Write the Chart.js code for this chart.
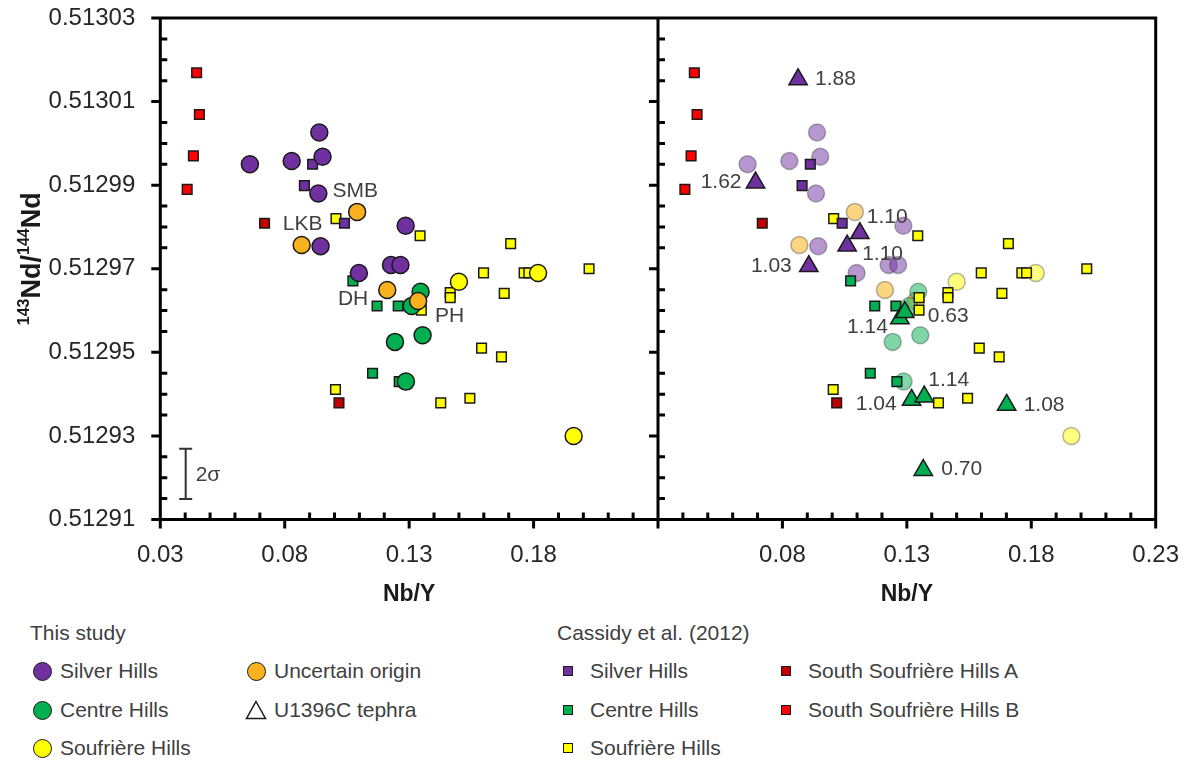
<!DOCTYPE html>
<html><head><meta charset="utf-8">
<script src="https://cdn.jsdelivr.net/npm/chart.js@4.4.1/dist/chart.umd.min.js"></script>
<style>
html,body{margin:0;padding:0;background:#fff;}
#wrap{position:relative;width:1188px;height:765px;overflow:hidden;font-family:"Liberation Sans",Arial,sans-serif;}
#c{position:absolute;left:0;top:0;}
.lt{position:absolute;font-size:21px;line-height:24px;height:24px;color:#404040;white-space:nowrap;}
.mk{position:absolute;box-sizing:border-box;}
</style></head>
<body><div id="wrap"><canvas id="c" width="1188" height="620"></canvas><div id="legend"></div></div>
<script>
// ---------------- DATA ----------------
const yTickValues = [0.51291, 0.51293, 0.51295, 0.51297, 0.51299, 0.51301, 0.51303];
const xTickValues = [0.03, 0.08, 0.13, 0.18, 0.23];

// Cassidy et al. (2012)
const cassSilverX = [0.0912, 0.0879, 0.1040];
const cassSilverY = [0.5129950, 0.5129899, 0.5129809];
const cassCentreX = [0.1074, 0.1171, 0.1256, 0.1153, 0.1260];
const cassCentreY = [0.5129671, 0.5129611, 0.5129611, 0.5129450, 0.5129430];
const cassSoufX = [0.1006, 0.1344, 0.1708, 0.2023, 0.1599, 0.1762, 0.1781, 0.1465, 0.1465, 0.1682, 0.1349, 0.1349, 0.1591, 0.1671, 0.1004, 0.1427, 0.1544];
const cassSoufY = [0.5129820, 0.5129779, 0.5129760, 0.5129700, 0.5129690, 0.5129690, 0.5129690, 0.5129643, 0.5129631, 0.5129641, 0.5129631, 0.5129601, 0.5129510, 0.5129489, 0.5129411, 0.5129379, 0.5129390];
const cassSSHAX = [0.0719, 0.1018];
const cassSSHAY = [0.5129809, 0.5129379];
const cassSSHBX = [0.0446, 0.0457, 0.0433, 0.0408];
const cassSSHBY = [0.5130169, 0.5130069, 0.5129970, 0.5129890];

// This study
const silverX = [0.0660, 0.0828, 0.0939, 0.0952, 0.0935, 0.0944, 0.1286, 0.1098, 0.1227, 0.1265];
const silverY = [0.5129950, 0.5129958, 0.5130026, 0.5129968, 0.5129880, 0.5129754, 0.5129803, 0.5129690, 0.5129709, 0.5129709];
const centreX = [0.1346, 0.1310, 0.1243, 0.1354, 0.1287];
const centreY = [0.5129645, 0.5129611, 0.5129525, 0.5129541, 0.5129430];
const soufX = [0.1500, 0.1818, 0.1961];
const soufY = [0.5129669, 0.5129690, 0.5129300];
const uncertainX = [0.1091, 0.0868, 0.1212, 0.1336];
const uncertainY = [0.5129836, 0.5129757, 0.5129649, 0.5129623];
const uncertainLabels = ['SMB', 'LKB', 'DH', 'PH'];

// U1396C tephra
const tephraSilverX = [0.0863, 0.0692, 0.1111, 0.1060, 0.0906];
const tephraSilverY = [0.5130153, 0.5129906, 0.5129785, 0.5129755, 0.5129706];
const tephraSilverLabels = ['1.88', '1.62', '1.10', '1.10', '1.03'];
const tephraCentreX = [0.1272, 0.1292, 0.1319, 0.1370, 0.1701, 0.1366];
const tephraCentreY = [0.5129581, 0.5129596, 0.5129386, 0.5129394, 0.5129374, 0.5129218];
const tephraCentreLabels = ['1.14', '0.63', '1.04', '1.14', '1.08', '0.70'];

// 2 sigma error bar
const errBarX = 0.0402;
const errBarCentre = 0.5129209;
const errBarHalf = 0.0000060;

// ---------------- STYLE ----------------
const FONT = '"Liberation Sans", Arial, Helvetica, sans-serif';
Chart.defaults.font.family = FONT;
const C = {
  purple: '#7030A0', green: '#00B050', yellow: '#FFFF00', orange: '#F9B21D',
  red: '#FF0000', darkred: '#C00000', edge: '#1a1a1a'
};
const fade = {
  purple: 'rgba(112,48,160,0.5)', green: 'rgba(0,176,80,0.5)', yellow: 'rgba(255,255,0,0.5)', orange: 'rgba(249,178,29,0.55)'
};
const fadeEdge = 'rgba(40,40,40,0.35)';
const uncertainLabelPos = [[-2, -21, 'center'], [1, -21, 'center'], [-19, 9, 'right'], [17, 15, 'left']];
const tephraSilverLabelPos = [[17, 0, 'left'], [-14, 0, 'right'], [7, -16, 'left'], [15, 8, 'left'], [-17, 0, 'right']];
const tephraCentreLabelPos = [[-12, 9, 'right'], [23, 4, 'left'], [-15, 4, 'right'], [4, -16, 'left'], [17, 0, 'left'], [18, -1, 'left']];

function pts(xs, ys) { return xs.map((x, i) => ({x: x, y: ys[i]})); }
function sq(label, xs, ys, color, axis, order) {
  return {label, data: pts(xs, ys), xAxisID: axis, yAxisID: 'y', pointStyle: 'rect', pointRadius: 6.8,
    borderWidth: 1.5, backgroundColor: color, borderColor: C.edge, order, showLine: false};
}
function circ(label, xs, ys, color, edge, axis, order) {
  return {label, data: pts(xs, ys), xAxisID: axis, yAxisID: 'y', pointStyle: 'circle', pointRadius: 8.5,
    borderWidth: 1.5, backgroundColor: color, borderColor: edge, order, showLine: false};
}
function tri(label, xs, ys, color, axis, order) {
  return {label, data: pts(xs, ys), xAxisID: axis, yAxisID: 'y', pointStyle: 'triangle', pointRadius: 10.6,
    borderWidth: 1.5, backgroundColor: color, borderColor: C.edge, order, showLine: false};
}

const datasets = [];
// left panel: Cassidy squares beneath, this-study circles on top
datasets.push(sq('Cassidy SSH B', cassSSHBX, cassSSHBY, C.red, 'xL', 5));
datasets.push(sq('Cassidy SSH A', cassSSHAX, cassSSHAY, C.darkred, 'xL', 5));
datasets.push(sq('Cassidy Silver Hills', cassSilverX, cassSilverY, C.purple, 'xL', 5));
datasets.push(sq('Cassidy Centre Hills', cassCentreX, cassCentreY, C.green, 'xL', 5));
datasets.push(sq('Cassidy Soufrière Hills', cassSoufX, cassSoufY, C.yellow, 'xL', 5));
datasets.push(circ('Silver Hills', silverX, silverY, C.purple, C.edge, 'xL', 2));
datasets.push(circ('Centre Hills', centreX, centreY, C.green, C.edge, 'xL', 2));
datasets.push(circ('Soufrière Hills', soufX, soufY, C.yellow, C.edge, 'xL', 2));
const dsUnc = circ('Uncertain origin', uncertainX, uncertainY, C.orange, C.edge, 'xL', 1);
dsUnc.pointLabels = uncertainLabels; dsUnc.labelPos = uncertainLabelPos;
datasets.push(dsUnc);
// right panel
datasets.push(circ('Silver Hills (faded)', silverX, silverY, fade.purple, fadeEdge, 'xR', 7));
datasets.push(circ('Centre Hills (faded)', centreX, centreY, fade.green, fadeEdge, 'xR', 7));
datasets.push(circ('Soufrière Hills (faded)', soufX, soufY, fade.yellow, fadeEdge, 'xR', 7));
datasets.push(circ('Uncertain origin (faded)', uncertainX, uncertainY, fade.orange, fadeEdge, 'xR', 7));
datasets.push(sq('Cassidy SSH B R', cassSSHBX, cassSSHBY, C.red, 'xR', 4));
datasets.push(sq('Cassidy SSH A R', cassSSHAX, cassSSHAY, C.darkred, 'xR', 4));
datasets.push(sq('Cassidy Silver Hills R', cassSilverX, cassSilverY, C.purple, 'xR', 4));
datasets.push(sq('Cassidy Centre Hills R', cassCentreX, cassCentreY, C.green, 'xR', 4));
datasets.push(sq('Cassidy Soufrière Hills R', cassSoufX, cassSoufY, C.yellow, 'xR', 4));
const dsTS = tri('U1396C tephra Silver Hills', tephraSilverX, tephraSilverY, C.purple, 'xR', 0);
dsTS.pointLabels = tephraSilverLabels; dsTS.labelPos = tephraSilverLabelPos;
const dsTC = tri('U1396C tephra Centre Hills', tephraCentreX, tephraCentreY, C.green, 'xR', 0);
dsTC.pointLabels = tephraCentreLabels; dsTC.labelPos = tephraCentreLabelPos;
datasets.push(dsTC, dsTS);

const TICK_COLOR = '#262626';
function noPad(s) { s.paddingTop = 0; s.paddingBottom = 0; s.paddingLeft = 0; s.paddingRight = 0; }
function xAxis(hideVal) {
  return {
    type: 'linear', position: 'bottom', stack: 'panels', stackWeight: 1,
    min: 0.03, max: 0.23,
    afterBuildTicks: s => { s.ticks = xTickValues.map(v => ({value: v})); },
    afterFit: s => { s.height = 100.5; noPad(s); },
    grid: {display: false, drawTicks: false, tickLength: 0},
    border: {display: false},
    ticks: {autoSkip: false, maxRotation: 0, padding: 21, color: TICK_COLOR, font: {size: 24},
      callback: v => (Math.abs(v - hideVal) < 1e-9 ? '' : Number(v).toFixed(2))},
    title: {display: true, text: 'Nb/Y', color: '#1a1a1a', font: {size: 23, weight: 'bold'}, padding: {top: 0, bottom: 12}}
  };
}

const axisDecor = {
  id: 'axisDecor',
  afterDatasetsDraw(chart) {
    const {ctx, chartArea: a, scales} = chart;
    const xL = scales.xL, xR = scales.xR, y = scales.y;
    ctx.save();
    ctx.strokeStyle = '#000';
    ctx.lineWidth = 3;
    ctx.lineCap = 'butt';
    ctx.beginPath();
    ctx.rect(a.left, a.top, a.right - a.left, a.bottom - a.top);
    ctx.moveTo(xR.left, a.top - 1.5); ctx.lineTo(xR.left, a.bottom + 1.5);
    // y ticks on both panel axes
    const yMin = y.min, yMax = y.max, yStep = 0.000005;
    const nY = Math.round((yMax - yMin) / yStep);
    for (let k = 0; k <= nY; k++) {
      const py = y.getPixelForValue(yMin + k * yStep);
      for (const px of [xL.left, xR.left]) {
        if (k % 4 === 0) { ctx.moveTo(px - 9, py); ctx.lineTo(px, py); }
        else { ctx.moveTo(px, py); ctx.lineTo(px + 7, py); }
      }
    }
    // x ticks on both panels
    for (const s of [xL, xR]) {
      const nX = Math.round((s.max - s.min) / 0.01);
      for (let k = 0; k <= nX; k++) {
        const px = s.getPixelForValue(s.min + k * 0.01);
        if (k % 5 === 0) { ctx.moveTo(px, a.bottom); ctx.lineTo(px, a.bottom + 9); }
        else { ctx.moveTo(px, a.bottom); ctx.lineTo(px, a.bottom - 7); }
      }
    }
    ctx.stroke();
    // 2 sigma bar
    const bx = xL.getPixelForValue(errBarX);
    const by1 = y.getPixelForValue(errBarCentre + errBarHalf);
    const by2 = y.getPixelForValue(errBarCentre - errBarHalf);
    ctx.strokeStyle = '#333';
    ctx.lineWidth = 2;
    ctx.beginPath();
    ctx.moveTo(bx, by1); ctx.lineTo(bx, by2);
    ctx.moveTo(bx - 6.5, by1); ctx.lineTo(bx + 6.5, by1);
    ctx.moveTo(bx - 6.5, by2); ctx.lineTo(bx + 6.5, by2);
    ctx.stroke();
    ctx.fillStyle = '#404040';
    ctx.font = '21px ' + FONT;
    ctx.textAlign = 'left'; ctx.textBaseline = 'middle';
    ctx.fillText('2σ', bx + 10, (by1 + by2) / 2 + 1);
    ctx.restore();
  }
};

const pointLabels = {
  id: 'pointLabels',
  afterDatasetsDraw(chart) {
    const ctx = chart.ctx;
    ctx.save();
    ctx.font = '21px ' + FONT;
    ctx.fillStyle = '#404040';
    ctx.textBaseline = 'middle';
    chart.data.datasets.forEach((ds, i) => {
      if (!ds.pointLabels) return;
      const meta = chart.getDatasetMeta(i);
      meta.data.forEach((el, j) => {
        const p = ds.labelPos[j];
        ctx.textAlign = p[2];
        ctx.fillText(ds.pointLabels[j], el.x + p[0], el.y + p[1]);
      });
    });
    ctx.restore();
  }
};

const yTitle = {
  id: 'yTitle',
  afterDraw(chart) {
    const ctx = chart.ctx;
    const a = chart.chartArea;
    const big = 'bold 27px ' + FONT, small = 'bold 16px ' + FONT;
    const parts = [['143', small, -11], ['Nd/', big, 0], ['144', small, -11], ['Nd', big, 0]];
    ctx.save();
    let total = 0;
    parts.forEach(p => { ctx.font = p[1]; p.push(ctx.measureText(p[0]).width); total += p[3]; });
    ctx.translate(40, (a.top + a.bottom) / 2 - 10);
    ctx.rotate(-Math.PI / 2);
    ctx.fillStyle = '#1a1a1a';
    ctx.textBaseline = 'alphabetic';
    ctx.textAlign = 'left';
    let x = -total / 2;
    parts.forEach(p => { ctx.font = p[1]; ctx.fillText(p[0], x, p[2]); x += p[3]; });
    ctx.restore();
  }
};

new Chart(document.getElementById('c'), {
  type: 'scatter',
  data: {datasets},
  options: {
    responsive: false, animation: false, devicePixelRatio: 1, events: [],
    layout: {autoPadding: false, padding: {left: 0, right: 32.3, top: 18, bottom: 0}},
    plugins: {legend: {display: false}, tooltip: {enabled: false}},
    scales: {
      xL: xAxis(0.23),
      xR: xAxis(0.03),
      y: {
        type: 'linear', position: 'left', min: 0.51291, max: 0.51303,
        afterBuildTicks: s => { s.ticks = yTickValues.map(v => ({value: v})); },
        afterFit: s => { s.width = 160.3; noPad(s); },
        grid: {display: false, drawTicks: false, tickLength: 0},
        border: {display: false},
        ticks: {padding: 25, color: TICK_COLOR, font: {size: 24}, callback: v => Number(v).toFixed(5)}
      }
    }
  },
  plugins: [pointLabels, axisDecor, yTitle]
});

// ---------------- LEGEND (HTML) ----------------
const legendGroups = [
  {title: 'This study', tx: 30, items: [
    {t: 'Silver Hills', s: 'circle', c: C.purple, mx: 42, tx: 60, row: 0},
    {t: 'Centre Hills', s: 'circle', c: C.green, mx: 42, tx: 60, row: 1},
    {t: 'Soufrière Hills', s: 'circle', c: C.yellow, mx: 42, tx: 60, row: 2},
    {t: 'Uncertain origin', s: 'circle', c: C.orange, mx: 256, tx: 274, row: 0},
    {t: 'U1396C tephra', s: 'triangle', c: '#fff', mx: 256, tx: 274, row: 1}
  ]},
  {title: 'Cassidy et al. (2012)', tx: 557, items: [
    {t: 'Silver Hills', s: 'square', c: C.purple, mx: 568, tx: 590, row: 0},
    {t: 'Centre Hills', s: 'square', c: C.green, mx: 568, tx: 590, row: 1},
    {t: 'Soufrière Hills', s: 'square', c: C.yellow, mx: 568, tx: 590, row: 2},
    {t: 'South Soufrière Hills A', s: 'square', c: C.darkred, mx: 786, tx: 808, row: 0},
    {t: 'South Soufrière Hills B', s: 'square', c: C.red, mx: 786, tx: 808, row: 1}
  ]}
];
const titleY = 633, rowY = [671, 710, 748];
let html = '';
legendGroups.forEach(g => {
  html += `<div class="lt" style="left:${g.tx}px;top:${titleY - 12}px">${g.title}</div>`;
  g.items.forEach(it => {
    const cy = rowY[it.row];
    if (it.s === 'circle') {
      html += `<div class="mk" style="left:${it.mx - 9.5}px;top:${cy - 9.5}px;width:19px;height:19px;border-radius:50%;border:1.5px solid ${C.edge};background:${it.c}"></div>`;
    } else if (it.s === 'square') {
      html += `<div class="mk" style="left:${it.mx - 5}px;top:${cy - 5}px;width:10px;height:10px;border:1.2px solid ${C.edge};background:${it.c}"></div>`;
    } else {
      html += `<svg class="mk" style="left:${it.mx - 11}px;top:${cy - 10}px" width="22" height="20"><polygon points="11,1.5 20.5,18.5 1.5,18.5" fill="#fff" stroke="${C.edge}" stroke-width="1.5"/></svg>`;
    }
    html += `<div class="lt" style="left:${it.tx}px;top:${cy - 12}px">${it.t}</div>`;
  });
});
document.getElementById('legend').innerHTML = html;
</script>
</body></html>
